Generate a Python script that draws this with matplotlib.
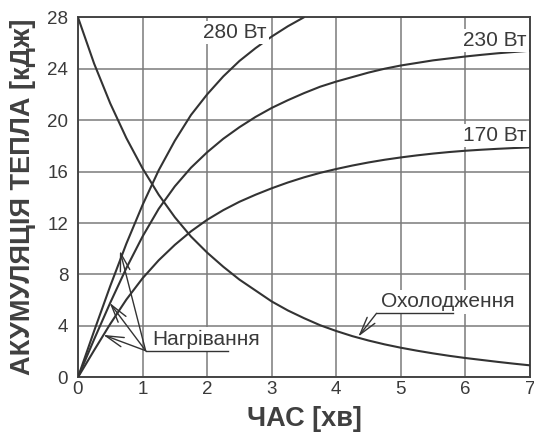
import matplotlib
matplotlib.use("Agg")
import matplotlib.pyplot as plt

plt.rcParams['font.family'] = ['Liberation Sans', 'DejaVu Sans']

# Time axis (minutes) and heat accumulation (kJ)
t = [0, 0.25, 0.5, 0.75, 1.0, 1.25, 1.5, 1.75, 2.0, 2.25, 2.5, 2.75, 3.0,
     3.25, 3.5, 3.75, 4.0, 4.25, 4.5, 4.75, 5.0, 5.25, 5.5, 5.75, 6.0,
     6.25, 6.5, 6.75, 7.0]

t_280 = [0, 0.25, 0.5, 0.75, 1.0, 1.25, 1.5, 1.75, 2.0, 2.25, 2.5, 2.75,
         3.0, 3.25, 3.5]
heat_280 = [0, 3.6, 7.1, 10.4, 13.4, 16.1, 18.4, 20.4, 22.0, 23.4, 24.6,
            25.6, 26.5, 27.3, 28.0]

heat_230 = [0, 2.95, 5.8, 8.5, 10.95, 13.1, 14.85, 16.3, 17.5, 18.55, 19.45,
            20.25, 20.95, 21.55, 22.1, 22.6, 23.0, 23.35, 23.7, 24.0, 24.25,
            24.45, 24.65, 24.8, 24.95, 25.08, 25.2, 25.3, 25.4]

heat_170 = [0, 2.1, 4.15, 6.05, 7.7, 9.1, 10.3, 11.35, 12.25, 13.0, 13.65,
            14.2, 14.7, 15.15, 15.55, 15.9, 16.2, 16.47, 16.71, 16.92, 17.1,
            17.26, 17.4, 17.52, 17.62, 17.7, 17.77, 17.83, 17.88]

cooling = [28.0, 24.4, 21.3, 18.6, 16.25, 14.2, 12.45, 10.95, 9.7, 8.6, 7.6,
           6.75, 5.9, 5.2, 4.6, 4.05, 3.6, 3.2, 2.86, 2.56, 2.3, 2.07, 1.86,
           1.67, 1.5, 1.35, 1.2, 1.06, 0.93]

x_ticks = [0, 1, 2, 3, 4, 5, 6, 7]
y_ticks = [0, 4, 8, 12, 16, 20, 24, 28]

line_c = '#333333'
text_c = '#3a3a3a'
grid_c = '#7a7a7a'

fig = plt.figure(figsize=(5.34, 4.43), dpi=100)
ax = fig.add_axes([0.146, 0.1483, 0.8465, 0.8127])

ax.set_xlim(0, 7)
ax.set_ylim(0, 28)
ax.set_xticks(x_ticks)
ax.set_yticks(y_ticks)
ax.tick_params(axis='both', length=0, labelsize=13.5, labelcolor=text_c)
ax.tick_params(axis='y', pad=7)
ax.tick_params(axis='x', pad=2.5)
ax.grid(True, color=grid_c, linewidth=1.1)
ax.set_axisbelow(True)
for s in ax.spines.values():
    s.set_color('#444444')
    s.set_linewidth(1.4)

for xs, ys in [(t_280, heat_280), (t, heat_230), (t, heat_170), (t, cooling)]:
    ax.plot(xs, ys, color=line_c, linewidth=1.5, solid_capstyle='round',
            solid_joinstyle='round', zorder=3)

box = dict(facecolor='white', edgecolor='none', pad=1.5)
ax.text(1.94, 26.38, '280 Вт', fontsize=15, color=text_c, ha='left',
        va='baseline', bbox=box, zorder=4)
ax.text(6.95, 25.78, '230 Вт', fontsize=15, color=text_c, ha='right',
        va='baseline', bbox=box, zorder=4)
ax.text(6.95, 18.4, '170 Вт', fontsize=15, color=text_c, ha='right',
        va='baseline', bbox=box, zorder=4)

# Heating label with leader line and arrows
ax.text(1.156, 2.5, 'Нагрівання', fontsize=15, color=text_c, ha='left',
        va='baseline', bbox=dict(facecolor='white', edgecolor='none', pad=2),
        zorder=4)
ax.plot([1.048, 2.327], [2.07, 2.07], color=line_c, linewidth=1.0, zorder=5)
arrow_kw = dict(arrowstyle='->,head_length=1.3,head_width=0.35',
                color=line_c, linewidth=1.0, mutation_scale=10,
                shrinkA=0, shrinkB=0)
for tip in [(0.65, 9.85), (0.49, 5.8), (0.39, 3.3)]:
    ax.annotate('', xy=tip, xytext=(1.048, 2.07), arrowprops=arrow_kw,
                zorder=5)

# Cooling label with leader line and arrow
ax.text(4.686, 5.44, 'Охолодження', fontsize=15, color=text_c, ha='left',
        va='baseline', bbox=dict(facecolor='white', edgecolor='none', pad=2),
        zorder=4)
ax.plot([4.624, 5.80], [4.98, 4.98], color=line_c, linewidth=1.0, zorder=5)
ax.annotate('', xy=(4.34, 3.16), xytext=(4.624, 4.98), arrowprops=arrow_kw,
            zorder=5)

ax.set_xlabel('ЧАС [хв]', fontsize=19.5, fontweight='bold', color='#404040',
              labelpad=6)
ax.set_ylabel('АКУМУЛЯЦІЯ ТЕПЛА [кДж]', fontsize=19.5, fontweight='bold',
              color='#404040', labelpad=8)

fig.savefig('out.png', dpi=100, facecolor='white')
